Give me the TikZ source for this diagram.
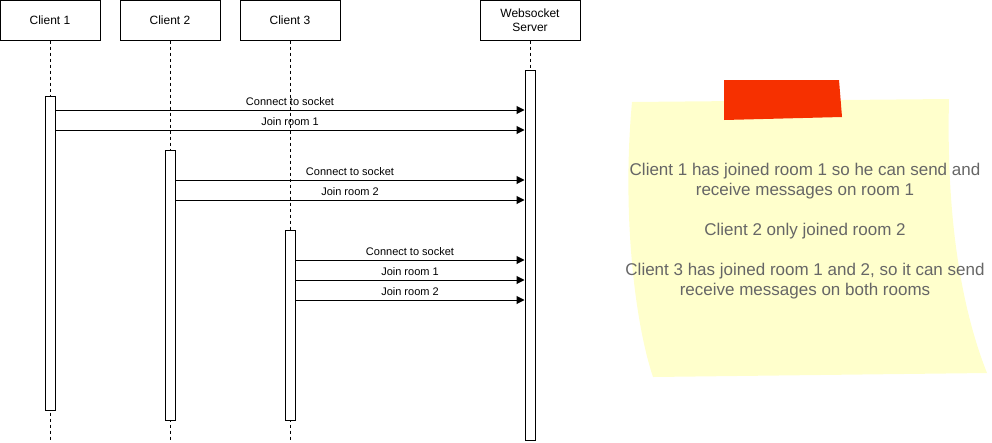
\documentclass[tikz,border=0pt]{standalone}
\usepackage{fontspec}
\setmainfont{Liberation Sans}
\usetikzlibrary{arrows.meta}
\definecolor{notefill}{RGB}{255,255,204}
\definecolor{tapered}{RGB}{246,48,0}
\definecolor{notetext}{RGB}{102,102,102}
\tikzset{
  head/.style = {draw, line width=1pt, fill=white, minimum width=100pt, minimum height=40pt, inner sep=0pt, align=center, font=\fontsize{12}{14}\selectfont},
  actbar/.style = {draw, line width=1pt, fill=white, minimum width=10pt, inner sep=0pt},
  lifeline/.style = {line width=1pt, dash pattern=on 3pt off 3pt},
  msg/.style = {line width=1pt, -{Triangle[length=8pt,width=8pt]}},
  msglabel/.style = {above, inner sep=3.5pt, font=\fontsize{11}{13}\selectfont}
}
\begin{document}
\begin{tikzpicture}[x=1pt, y=-1pt]
\useasboundingbox (0,0) rectangle (992,442);
\node[head] (c1) at (50,20) {Client 1};
\node[head] (c2) at (170,20) {Client 2};
\node[head] (c3) at (290,20) {Client 3};
\node[head] (srv) at (530,20) {Websocket\\Server};
\foreach \who in {c1, c2, c3, srv}
  \draw[lifeline] (\who.south) -- (\who.south |- 0,440);
\node[actbar, minimum height=314pt] (c1act) at (50,253) {};
\node[actbar, minimum height=270pt] (c2act) at (170,285) {};
\node[actbar, minimum height=190pt] (c3act) at (290,325) {};
\node[actbar, minimum height=370pt] (srvact) at (530,255) {};
\draw[msg] (c1act.east |- 0,110) -- node[msglabel] {Connect to socket} (srvact.west |- 0,110);
\draw[msg] (c1act.east |- 0,130) -- node[msglabel] {Join room 1} (srvact.west |- 0,130);
\draw[msg] (c2act.east |- 0,180) -- node[msglabel] {Connect to socket} (srvact.west |- 0,180);
\draw[msg] (c2act.east |- 0,200) -- node[msglabel] {Join room 2} (srvact.west |- 0,200);
\draw[msg] (c3act.east |- 0,260) -- node[msglabel] {Connect to socket} (srvact.west |- 0,260);
\draw[msg] (c3act.east |- 0,280) -- node[msglabel] {Join room 1} (srvact.west |- 0,280);
\draw[msg] (c3act.east |- 0,300) -- node[msglabel] {Join room 2} (srvact.west |- 0,300);
\fill[notefill] (632,102) .. controls (622,210) and (634,320) .. (653,377) -- (987,373)
  .. controls (962,310) and (946,220) .. (949,99) -- cycle;
\fill[tapered] (724,80) -- (839,80) -- (842,117) -- (724,120) -- cycle;
\node[text=notetext, align=center, font=\fontsize{17}{20}\selectfont] (note) at (805,231)
  {Client 1 has joined room 1 so he can send and\\receive messages on room 1\\ \\Client 2 only joined room 2\\ \\Client 3 has joined room 1 and 2, so it can send\\receive messages on both rooms};
\end{tikzpicture}
\end{document}
